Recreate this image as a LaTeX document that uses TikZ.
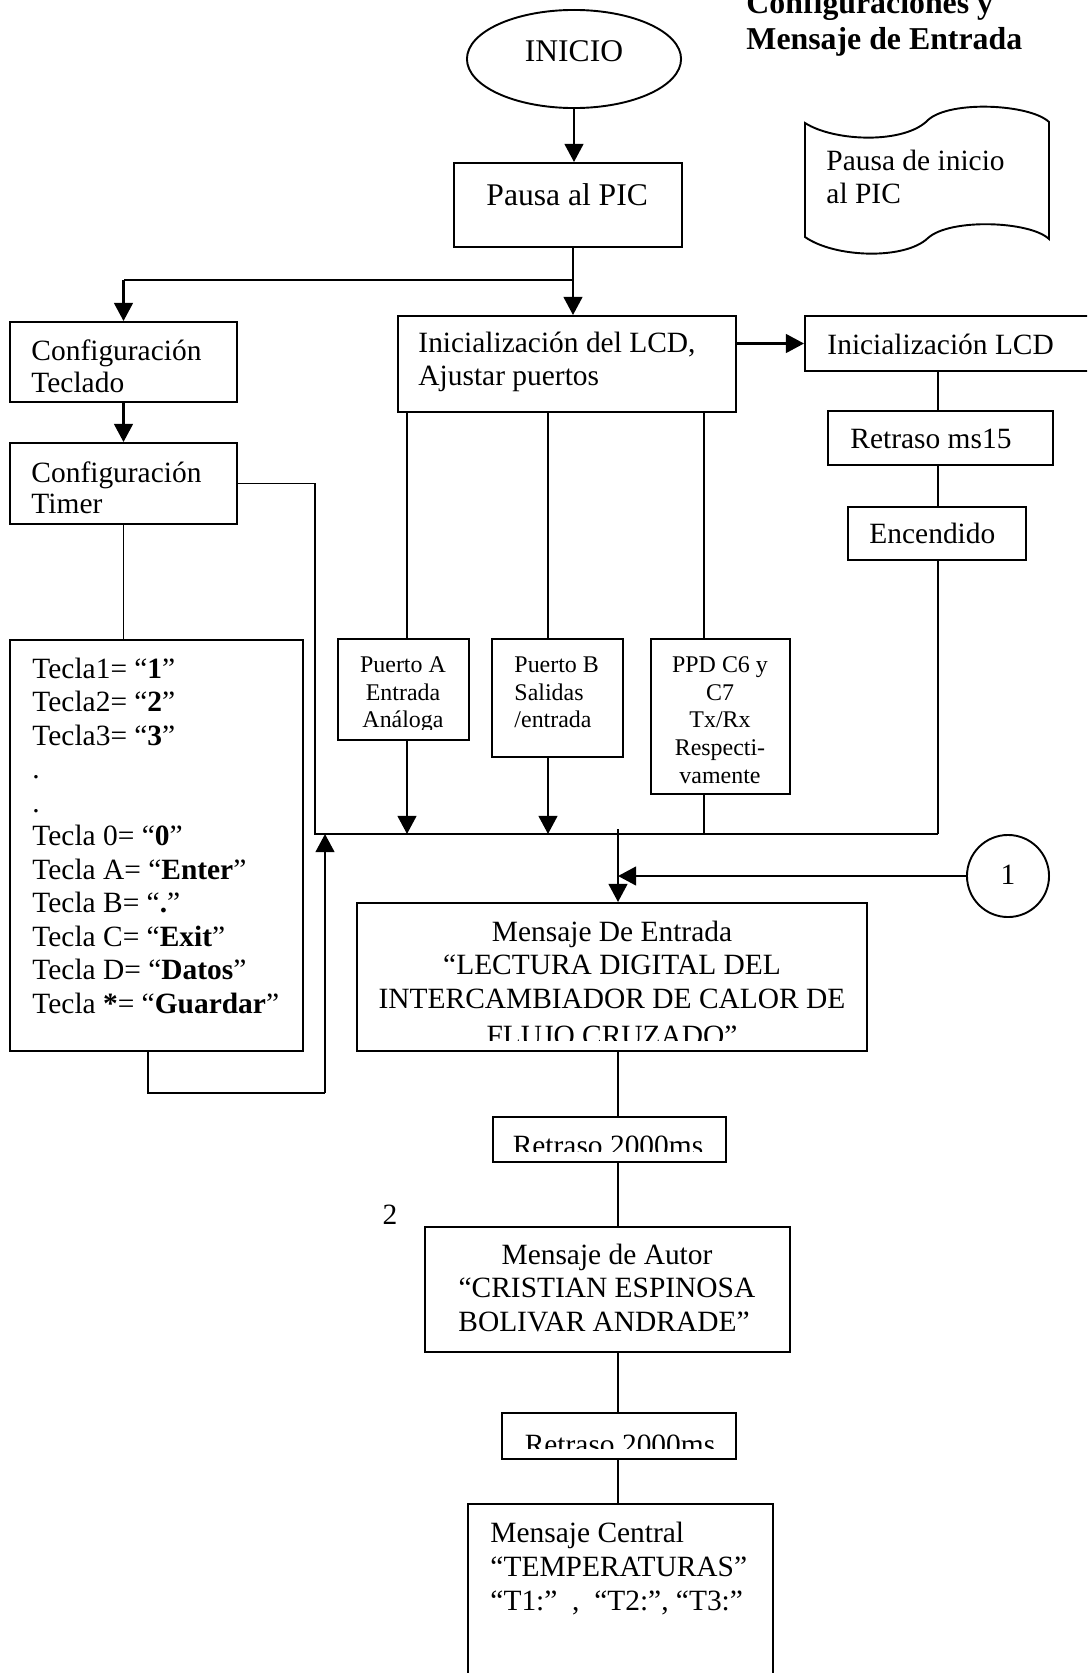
\documentclass[tikz,border=0pt]{standalone}
\usepackage{fontspec}
\setmainfont{Liberation Serif}
\usetikzlibrary{arrows.meta,shapes.geometric,fit}

\tikzset{
  box/.style={draw, rectangle, line width=0.8pt, inner sep=0pt},
  line/.style={line width=0.8pt},
  arr/.style={line width=1.1pt, -{Triangle[length=7.6pt,width=7.8pt]}},
  txt/.style={inner sep=0pt, font=\fontsize{12.3}{14}\selectfont},
  big/.style={inner sep=0pt, font=\fontsize{13.2}{15}\selectfont},
  small/.style={inner sep=0pt, font=\fontsize{10}{11.5}\selectfont},
  ttl/.style={inner sep=0pt, font=\fontsize{13.3}{15}\selectfont\bfseries},
}

% box from its two corners
\newcommand{\bx}[5]{\node[box, fit={(#2,#3) (#4,#5)}] (#1) {};}
% single text lines
\newcommand{\txtL}[4]{\node[txt, anchor=base west] (#1) at (#2,#3) {#4};}
\newcommand{\txtC}[4]{\node[txt, anchor=base] (#1) at (#2,#3) {#4};}
\newcommand{\smL}[4]{\node[small, anchor=base west] (#1) at (#2,#3) {#4};}
\newcommand{\smC}[4]{\node[small, anchor=base] (#1) at (#2,#3) {#4};}

\begin{document}
\begin{tikzpicture}[x=0.418pt, y=-0.418pt]
\useasboundingbox (0,0) rectangle (1087,1673);
\clip (0,0) rectangle (1087,1673);

% heading
\node[ttl, anchor=base west] (ttlA) at (746,13) {Configuraciones y};
\node[ttl, anchor=base west] (ttlB) at (746,49) {Mensaje de Entrada};

% start
\node[draw, ellipse, line width=0.8pt, inner sep=0pt,
      minimum width=89.5pt, minimum height=41pt] (inicio) at (574,59) {};
\node[big, anchor=base] (inicioT) at (574,62) {INICIO};

% boxes
\bx{pausa}{454}{163}{682}{247}
\bx{teclado}{10}{322}{237}{402}
\bx{timer}{10}{443}{237}{524}
\bx{lcd}{398}{316}{736}{412}
\bx{lcdd}{805}{316}{1095}{371}
\bx{rms}{828}{411}{1053}{465}
\bx{enc}{848}{507}{1026}{560}
\bx{pa}{338}{639}{469}{740}
\bx{pb}{492}{639}{623}{757}
\bx{ppd}{651}{639}{790}{794}
\bx{tecla}{10}{640}{303}{1051}
\bx{ent}{357}{903}{867}{1051}
\bx{ra}{493}{1117}{726}{1162}
\bx{autor}{425}{1227}{790}{1352}
\bx{rb}{502}{1413}{736}{1459}
\bx{central}{468}{1504}{773}{1700}

% connector
\node[draw, circle, line width=0.8pt, inner sep=0pt, minimum size=34.3pt] (c1) at (1008,876) {};
\txtC{oneT}{1008}{884}{1}

% document symbol
\draw[line] (805,123) .. controls (835,142) and (905,144) .. (928,120)
  .. controls (950,100) and (1030,104) .. (1049,122) -- (1049,239)
  .. controls (1030,221) and (950,218) .. (928,238)
  .. controls (905,260) and (835,258) .. (805,237) -- cycle;
\txtL{docA}{826}{170}{Pausa de inicio}
\txtL{docB}{826}{203}{al PIC}

% junction points
\coordinate (split) at (573,280);
\coordinate (busL) at (315,834);
\coordinate (busR) at (938,834);
\coordinate (dA) at (407,834);
\coordinate (dB) at (548,834);
\coordinate (dC) at (704,834);
\coordinate (jn) at (618,829);
\coordinate (loopA) at (148,1093);
\coordinate (loopB) at (325,1093);

% texts
\node[big, anchor=base west] (pausaT) at (486,205) {Pausa al PIC};
\txtL{tecA}{31}{360}{Configuración}
\txtL{tecB}{31}{392}{Teclado}
\txtL{timA}{31}{482}{Configuración}
\txtL{timB}{31}{513}{Timer}
\txtL{lcdA}{418}{352}{Inicialización del LCD,}
\txtL{lcdB}{418}{385}{Ajustar puertos}
\txtL{lcddT}{827}{354}{Inicialización LCD}
\txtL{rmsT}{850}{448}{Retraso ms15}
\txtL{encT}{869}{543}{Encendido}

\begin{scope}
  \clip (338,639) rectangle (469,729);
  \smC{paA}{403}{672}{Puerto A}
  \smC{paB}{403}{700}{Entrada}
  \smC{paC}{403}{727}{Análoga}
\end{scope}
\smL{pbA}{514}{672}{Puerto B}
\smL{pbB}{514}{700}{Salidas}
\smL{pbC}{514}{727}{/entrada}
\smC{ppdA}{720}{672}{PPD C6 y}
\smC{ppdB}{720}{700}{C7}
\smC{ppdC}{720}{727}{Tx/Rx}
\smC{ppdD}{720}{755}{Respecti-}
\smC{ppdE}{720}{783}{vamente}

\txtL{kA}{32}{678}{Tecla1= “\textbf{1}”}
\txtL{kB}{32}{711.5}{Tecla2= “\textbf{2}”}
\txtL{kC}{32}{745}{Tecla3= “\textbf{3}”}
\txtL{kD}{32}{778.5}{.}
\txtL{kE}{32}{812}{.}
\txtL{kF}{32}{845.5}{Tecla 0= “\textbf{0}”}
\txtL{kG}{32}{879}{Tecla A= “\textbf{Enter}”}
\txtL{kH}{32}{912.5}{Tecla B= “\textbf{.}”}
\txtL{kI}{32}{946}{Tecla C= “\textbf{Exit}”}
\txtL{kJ}{32}{979.5}{Tecla D= “\textbf{Datos}”}
\txtL{kK}{32}{1013}{Tecla \textbf{*}= “\textbf{Guardar}”}

\begin{scope}
  \clip (359,905) rectangle (865,1040);
  \txtC{entA}{612}{941}{Mensaje De Entrada}
  \txtC{entB}{612}{974}{“LECTURA DIGITAL DEL}
  \txtC{entC}{612}{1008}{INTERCAMBIADOR DE CALOR DE}
  \txtC{entD}{612}{1045}{FLUJO CRUZADO”}
\end{scope}
\begin{scope}
  \clip (495,1119) rectangle (724,1151);
  \txtC{raT}{608}{1155}{Retraso 2000ms}
\end{scope}
\txtC{two}{390}{1224}{2}
\txtC{auA}{607}{1264}{Mensaje de Autor}
\txtC{auB}{607}{1297}{“CRISTIAN ESPINOSA}
\txtC{auC}{604}{1331}{BOLIVAR ANDRADE”}
\begin{scope}
  \clip (504,1415) rectangle (734,1448);
  \txtC{rbT}{620}{1454}{Retraso 2000ms}
\end{scope}
\txtL{ceA}{490}{1542}{Mensaje Central}
\txtL{ceB}{490}{1576}{“TEMPERATURAS”}
\txtL{ceC}{490}{1610}{“T1:”\ \ ,\ \ “T2:”, “T3:”}

% connectors
\draw[arr] (inicio.south) -- (inicio.south |- pausa.north);
\draw[line] (pausa.south -| split) -- (split);
\draw[line] (split) -- (split -| teclado.north);
\draw[arr] (split -| teclado.north) -- (teclado.north);
\draw[arr] (split) -- (split |- lcd.north);
\draw[arr] (teclado.south) -- (timer.north);
\draw[line] (timer.east) -| (busL) -- (busR);
\draw[line] (timer.south) -- (timer.south |- tecla.north);
\draw[line] (tecla.south -| loopA) -- (loopA) -- (loopB);
\draw[arr] (loopB) -- (loopB |- busL);
\draw[line] (lcd.south -| dA) -- (pa.north -| dA);
\draw[line] (lcd.south -| dB) -- (pb.north -| dB);
\draw[line] (lcd.south -| dC) -- (ppd.north -| dC);
\draw[arr] (pa.south -| dA) -- (dA);
\draw[arr] (pb.south -| dB) -- (dB);
\draw[line] (ppd.south -| dC) -- (dC);
\draw[arr] (lcd.east |- lcdd.west) -- (lcdd.west);
\draw[line] (lcdd.south -| busR) -- (rms.north -| busR);
\draw[line] (rms.south -| busR) -- (enc.north -| busR);
\draw[line] (enc.south -| busR) -- (busR);
\draw[arr] (jn) -- (jn |- ent.north);
\draw[arr] (c1.west) -- (c1.west -| jn);
\draw[line] (ent.south -| jn) -- (ra.north -| jn);
\draw[line] (ra.south -| jn) -- (autor.north -| jn);
\draw[line] (autor.south -| jn) -- (rb.north -| jn);
\draw[line] (rb.south -| jn) -- (central.north -| jn);
\end{tikzpicture}
\end{document}
